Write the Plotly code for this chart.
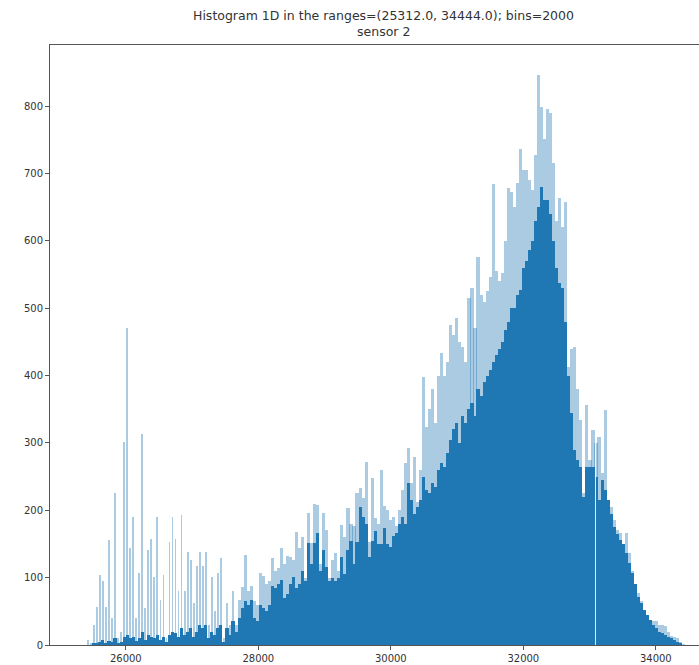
import numpy as np
import plotly.graph_objects as go

# ---- histogram meta ----
range_lo, range_hi = 25312.0, 34444.0
n_bins = 2000
group = 10            # original bins merged per drawn bar (values read per group)

# ---- counts (per group of 10 bins) ----
# peak: highest bin in the group (light tint); base: level that is filled by all bins (solid)
peak = [
    0, 0, 7, 3, 30, 57, 104, 95, 57, 156,
    40, 225, 10, 20, 302, 470, 144, 190, 40, 107,
    314, 55, 141, 158, 101, 190, 67, 104, 10, 153,
    190, 158, 80, 193, 80, 138, 126, 62, 118, 138,
    118, 138, 30, 101, 50, 107, 129, 10, 62, 30,
    80, 30, 67, 86, 134, 80, 87, 65, 60, 107,
    102, 90, 95, 129, 110, 115, 144, 120, 132, 130,
    126, 168, 144, 160, 100, 196, 151, 210, 208, 120,
    196, 171, 100, 126, 136, 110, 178, 160, 203, 180,
    176, 225, 233, 218, 272, 153, 248, 188, 180, 260,
    206, 200, 185, 190, 176, 200, 230, 270, 292, 240,
    279, 213, 260, 398, 324, 350, 380, 330, 400, 433,
    400, 420, 475, 460, 485, 450, 442, 420, 515, 530,
    470, 576, 520, 510, 525, 546, 684, 556, 540, 553,
    600, 679, 672, 650, 686, 737, 705, 705, 690, 675,
    727, 846, 799, 751, 796, 790, 715, 630, 663, 620,
    658, 413, 440, 442, 380, 334, 225, 356, 274, 319,
    300, 309, 255, 349, 215, 205, 185, 171, 166, 136,
    166, 136, 110, 86, 77, 65, 52, 45, 37, 36,
    35, 30, 29, 28, 20, 14, 12, 10, 4, 1,
]
base = [
    0, 0, 0, 0, 2, 3, 5, 8, 3, 6,
    4, 10, 3, 5, 12, 15, 10, 12, 6, 10,
    20, 8, 15, 12, 10, 15, 8, 12, 5, 15,
    20, 18, 12, 25, 15, 20, 25, 12, 20, 30,
    25, 30, 10, 20, 15, 25, 30, 5, 25, 15,
    35, 20, 40, 55, 65, 60, 67, 40, 35, 60,
    55, 50, 60, 87, 85, 90, 96, 70, 75, 91,
    101, 85, 91, 110, 95, 151, 120, 151, 166, 110,
    141, 116, 95, 100, 95, 100, 131, 105, 141, 155,
    120, 153, 205, 190, 180, 130, 155, 170, 150, 150,
    173, 150, 145, 162, 166, 180, 190, 180, 240, 215,
    195, 205, 215, 250, 230, 225, 240, 235, 260, 270,
    265, 285, 305, 320, 330, 300, 340, 330, 350, 360,
    340, 380, 370, 390, 400, 408, 420, 430, 440, 450,
    467, 480, 500, 500, 520, 527, 560, 570, 586, 600,
    630, 650, 680, 660, 660, 640, 600, 560, 537, 530,
    480, 400, 344, 290, 274, 264, 220, 264, 264, 264,
    250, 215, 245, 230, 215, 195, 175, 165, 156, 150,
    136, 122, 107, 90, 72, 62, 52, 45, 37, 30,
    25, 20, 18, 15, 12, 10, 7, 5, 2, 0,
]
empty_bins = [1703]   # original bin index with zero count (thin white line)

title_lines = ["Histogram 1D in the ranges=(25312.0, 34444.0); bins=2000", "sensor 2"]

# ---- derived geometry from the library ----
bw = (range_hi - range_lo) / n_bins
gw = bw * group
xc = [range_lo + gw * (i + 0.5) for i in range(len(peak))]
# sparse left part is drawn with thin spikes, dense part with full-width bars
sparse_edge = 27650
pw = [gw * 0.6 if x < sparse_edge else gw * 1.02 for x in xc]

fig = go.Figure()
fig.add_trace(go.Bar(x=xc, y=peak, width=pw,
                     marker=dict(color="rgba(31,119,180,0.38)", line=dict(width=0)),
                     hoverinfo="skip"))
fig.add_trace(go.Bar(x=xc, y=base, width=gw * 1.02,
                     marker=dict(color="#1f77b4", line=dict(width=0)),
                     hoverinfo="skip"))
ex = [range_lo + bw * (k + 0.5) for k in empty_bins]
ey = [peak[int(k // group)] for k in empty_bins]
fig.add_trace(go.Bar(x=ex, y=ey, width=bw * 1.4,
                     marker=dict(color="rgba(255,255,255,0.85)", line=dict(width=0)),
                     hoverinfo="skip"))

ymax = max(peak) * 1.053
margin = 0.05 * (range_hi - range_lo)
x_lo = range_lo - margin
px_per_unit = 132.5 / 2000
x_hi = x_lo + 649 / px_per_unit

# title centred over the (partly cropped) axes
title_x = (383 - 50) / 649
for txt, ypx in zip(title_lines, [16, 31.5]):
    fig.add_annotation(text=txt, xref="paper", yref="paper",
                       x=title_x, y=1 + (45 - ypx) / 600, xanchor="center", yanchor="middle",
                       showarrow=False,
                       font=dict(family="DejaVu Sans", size=12.5, color="#333"))

axis_font = dict(family="DejaVu Sans", size=10, color="#333")
fig.update_layout(
    width=699, height=665,
    margin=dict(l=50, r=0, t=45, b=20),
    plot_bgcolor="white", paper_bgcolor="white",
    barmode="overlay", bargap=0, showlegend=False,
    xaxis=dict(range=[x_lo, x_hi], tickvals=[26000, 28000, 30000, 32000, 34000],
               ticktext=["26000", "28000", "30000", "32000", "34000"],
               showgrid=False, zeroline=False, showline=True, linecolor="#555",
               linewidth=1, mirror=True, ticks="outside", ticklen=4, tickcolor="#555",
               tickfont=axis_font),
    yaxis=dict(range=[0, ymax], tickvals=list(range(0, 900, 100)),
               showgrid=False, zeroline=False, showline=True, linecolor="#555",
               linewidth=1, ticks="outside", ticklen=4, tickcolor="#555",
               tickfont=axis_font),
)
fig.write_html("out.html")
